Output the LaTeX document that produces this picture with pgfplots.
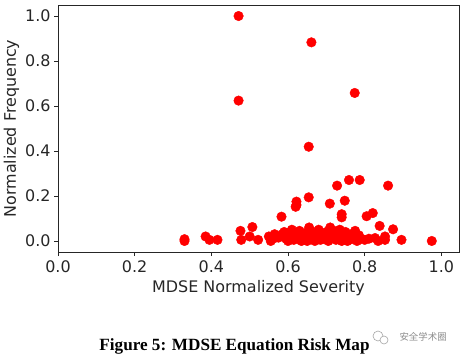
\documentclass[border=0pt]{standalone}
\usepackage{pgfplots}
\pgfplotsset{compat=1.18}
\usepackage{fontspec}
\setmainfont{DejaVu Sans}
\newfontfamily\capfont{Liberation Serif}
\newfontfamily\cjk{Noto Sans CJK SC}
\begin{document}
\begin{tikzpicture}
\path[use as bounding box] (0,0) rectangle (467bp,357bp);
\begin{axis}[
  at={(58bp,105bp)}, anchor=south west,
  scale only axis, width=401bp, height=247bp,
  xmin=0, xmax=1.046, ymin=-0.049, ymax=1.049,
  xtick={0,0.2,0.4,0.6,0.8,1.0},
  ytick={0,0.2,0.4,0.6,0.8,1.0},
  xtick pos=lower, ytick pos=left, tick align=outside,
  major tick length=4bp,
  tick style={black!85, line width=0.6bp},
  axis line style={black!85, line width=0.7bp},
  /pgf/number format/assume math mode=true,
  xticklabel style={/pgf/number format/fixed, /pgf/number format/fixed zerofill, /pgf/number format/precision=1, yshift=-1bp},
  yticklabel style={/pgf/number format/fixed, /pgf/number format/fixed zerofill, /pgf/number format/precision=1},
  tick label style={font=\fontsize{16}{19}\selectfont, text=black!85},
  label style={font=\fontsize{16}{19}\selectfont, text=black!85},
  xlabel={MDSE Normalized Severity},
  ylabel={Normalized Frequency},
  xlabel style={yshift=-1bp},
  ylabel style={yshift=-1bp},
]
\addplot[only marks, mark=*, mark size=4.8bp, color=red, mark options={fill=red, draw=red}] coordinates {
(0.330,0.000) (0.330,0.008) (0.385,0.020) (0.395,0.005) (0.416,0.005)
(0.476,0.045) (0.478,0.005) (0.500,0.020) (0.507,0.062) (0.522,0.005)
(0.550,0.020) (0.555,0.000) (0.561,0.010) (0.565,0.030) (0.583,0.108)
(0.590,0.040) (0.595,0.010) (0.600,0.000) (0.605,0.025) (0.610,0.050)
(0.615,0.005) (0.620,0.030) (0.625,0.010) (0.630,0.045) (0.635,0.000)
(0.640,0.020) (0.645,0.035) (0.650,0.000) (0.655,0.060) (0.660,0.015)
(0.665,0.040) (0.670,0.000) (0.675,0.025) (0.680,0.050) (0.685,0.005)
(0.690,0.030) (0.695,0.010) (0.700,0.040) (0.705,0.000) (0.710,0.060)
(0.715,0.020) (0.720,0.045) (0.725,0.005) (0.730,0.030) (0.740,0.000)
(0.745,0.015) (0.750,0.040) (0.755,0.000) (0.760,0.005) (0.770,0.010)
(0.775,0.045) (0.780,0.000) (0.790,0.010) (0.800,0.005) (0.811,0.010)
(0.827,0.013) (0.835,0.000) (0.839,0.067) (0.853,0.005) (0.853,0.020)
(0.874,0.052) (0.896,0.005) (0.975,0.000)
(0.575,0.015) (0.585,0.030) (0.612,0.020) (0.642,0.008) (0.668,0.022)
(0.698,0.028) (0.722,0.018) (0.735,0.050) (0.765,0.030) (0.785,0.025)
(0.471,1.000) (0.661,0.883) (0.471,0.624) (0.774,0.658) (0.654,0.419)
(0.787,0.271) (0.759,0.271) (0.728,0.246) (0.861,0.246) (0.654,0.194)
(0.622,0.175) (0.622,0.160) (0.620,0.152) (0.748,0.179) (0.709,0.166)
(0.740,0.119) (0.740,0.105) (0.805,0.110) (0.821,0.124)
};
\end{axis}
\node[font=\capfont\bfseries\fontsize{17.2}{20}\selectfont, anchor=center] at (234.5bp,11bp) {Figure 5: MDSE Equation Risk Map};
\draw[gray!70, line width=0.6bp] (378bp,21bp) circle (5bp);
\draw[gray!70, line width=0.6bp, fill=white] (384bp,17bp) circle (4bp);
\node[font=\cjk\fontsize{9.5}{11}\selectfont, text=gray!90, anchor=west] at (396bp,20bp) {安全学术圈};
\end{tikzpicture}
\end{document}
